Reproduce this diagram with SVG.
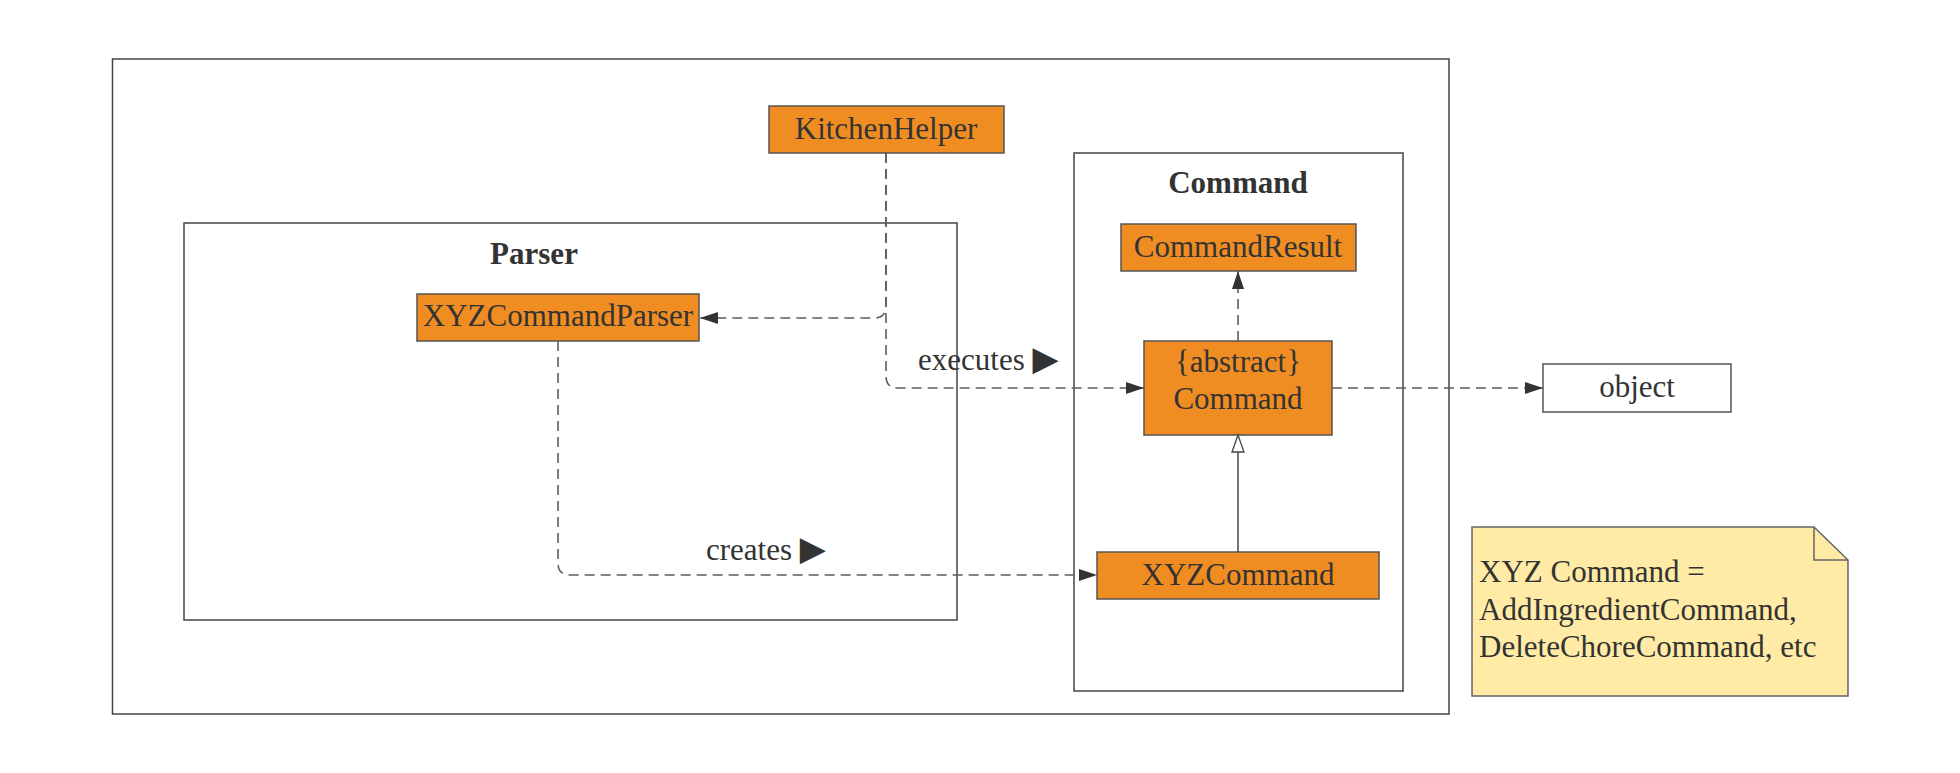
<svg xmlns="http://www.w3.org/2000/svg" width="1960" height="773" viewBox="0 0 1960 773">
<style>
.frame{fill:none;stroke:#444;stroke-width:1.5}
.cls{fill:#F08D22;stroke:#555;stroke-width:1.5}
.plain{fill:#fff;stroke:#555;stroke-width:1.5}
.t{font-family:"Liberation Serif",serif;font-size:31px;fill:#333;text-anchor:middle}
.title{font-family:"Liberation Serif",serif;font-size:31px;font-weight:bold;fill:#333;text-anchor:middle}
.lbl{font-family:"Liberation Serif",serif;font-size:31px;fill:#333}
.dash{fill:none;stroke:#5e5e5e;stroke-width:1.6;stroke-dasharray:10 6}
.solid{fill:none;stroke:#444;stroke-width:1.5}
.tri{font-family:"DejaVu Sans",sans-serif;font-size:34px;fill:#333}
</style>
<defs>
<marker id="arr" markerUnits="userSpaceOnUse" markerWidth="18" markerHeight="12" refX="18" refY="6" orient="auto">
<path d="M0,0 L18,6 L0,12 z" fill="#333"/>
</marker>
<marker id="inh" markerUnits="userSpaceOnUse" markerWidth="20" markerHeight="14" refX="18" refY="7" orient="auto">
<path d="M1,1 L18,7 L1,13 z" fill="#fff" stroke="#444" stroke-width="1.3"/>
</marker>
</defs>
<rect width="1960" height="773" fill="#fff"/>
<g id="outer-frame"><rect class="frame" x="112.5" y="59" width="1336.5" height="655"/></g>
<g id="parser-package">
<rect class="frame" x="184" y="223" width="773" height="397"/>
<text class="title" x="534" y="264">Parser</text>
</g>
<g id="command-package">
<rect class="frame" x="1074" y="153" width="329" height="538"/>
<text class="title" x="1238" y="193">Command</text>
</g>
<g id="KitchenHelper">
<rect class="cls" x="769" y="106" width="235" height="47"/>
<text class="t" x="886" y="139">KitchenHelper</text>
</g>
<g id="XYZCommandParser">
<rect class="cls" x="417" y="294" width="282" height="47"/>
<text class="t" x="558" y="326">XYZCommandParser</text>
</g>
<g id="CommandResult">
<rect class="cls" x="1121" y="224" width="235" height="47"/>
<text class="t" x="1238" y="257">CommandResult</text>
</g>
<g id="AbstractCommand">
<rect class="cls" x="1144" y="341" width="188" height="94"/>
<text class="t" x="1238" y="372">{abstract}</text>
<text class="t" x="1238" y="409">Command</text>
</g>
<g id="XYZCommand">
<rect class="cls" x="1097" y="552" width="282" height="47"/>
<text class="t" x="1238" y="585">XYZCommand</text>
</g>
<g id="object">
<rect class="plain" x="1543" y="364" width="188" height="48"/>
<text class="t" x="1637" y="397">object</text>
</g>
<g id="note">
<path d="M1472,527 L1814,527 L1848,560 L1848,696 L1472,696 z" fill="#FFEBA5" stroke="#666" stroke-width="1.5"/>
<path d="M1814,527 L1814,560 L1848,560" fill="none" stroke="#666" stroke-width="1.5"/>
<text class="lbl" x="1479" y="582">XYZ Command =</text>
<text class="lbl" x="1479" y="620">AddIngredientCommand,</text>
<text class="lbl" x="1479" y="657">DeleteChoreCommand, etc</text>
</g>
<g id="connectors">
<path class="dash" d="M886,153 L886,306 Q886,318 874,318 L700,318" marker-end="url(#arr)"/>
<path class="dash" d="M886,153 L886,376 Q886,388 898,388 L1144,388" marker-end="url(#arr)"/>
<path class="dash" d="M558,341 L558,563 Q558,575 570,575 L1097,575" marker-end="url(#arr)"/>
<path class="dash" d="M1238,341 L1238,271" marker-end="url(#arr)"/>
<path class="dash" d="M1332,388 L1543,388" marker-end="url(#arr)"/>
<path class="solid" d="M1238,552 L1238,435" marker-end="url(#inh)"/>
<text class="lbl" x="918" y="370">executes <tspan class="tri">▶</tspan></text>
<text class="lbl" x="706" y="560">creates <tspan class="tri">▶</tspan></text>
</g>
</svg>
